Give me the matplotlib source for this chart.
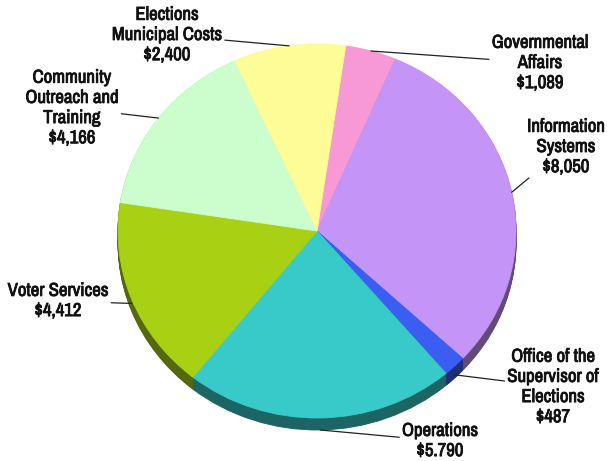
import matplotlib.pyplot as plt
import matplotlib.patheffects as pe
import numpy as np
from matplotlib.colors import to_rgb

plt.rcParams["font.family"] = ["Archivo Narrow", "Liberation Sans", "DejaVu Sans"]

# budget by division, clockwise from the top of the pie
categories = [
    "Governmental\nAffairs",
    "Information\nSystems",
    "Office of the\nSupervisor of\nElections",
    "Operations",
    "Voter Services",
    "Community\nOutreach and\nTraining",
    "Elections\nMunicipal Costs",
]
amounts = [1089, 8050, 487, 5790, 4412, 4166, 2400]
amount_labels = ["$1,089", "$8,050", "$487", "$5.790", "$4,412", "$4,166", "$2,400"]
colors = ["#f799d4", "#c594f7", "#3b5df2", "#38c9c9", "#a9d114", "#ccfdcc", "#fdfc96"]

# label block centres in pixels (x from left, y from top)
label_pos = [(540, 63), (566, 147), (553, 387), (440, 441), (58, 301), (72, 108), (167, 35)]

W, H = 607, 461
cx, cy = 317, 231          # pie centre in pixels
rx, ry = 199, 187          # ellipse radii in pixels
depth = 12 / ry            # thickness of the rim
start = 81.7

fig = plt.figure(figsize=(W / 100, H / 100), dpi=100)
ax = fig.add_axes([0, 0, 1, 1])


def paint(wedges):
    for w in wedges:
        w.set_edgecolor(w.get_facecolor())
        w.set_linewidth(0.6)


# rim: stacked darker copies pushed downwards
side_colors = [tuple(c * 0.5 for c in to_rgb(col)) for col in colors]
steps = 14
for k in range(steps, 0, -1):
    wedges, _ = ax.pie(amounts, colors=side_colors, startangle=start,
                       counterclock=False, center=(0, -depth * k / steps))
    paint(wedges)

wedges, _ = ax.pie(amounts, colors=colors, startangle=start, counterclock=False)
paint(wedges)

ax.set_aspect("auto")
ax.set_xlim(-cx / rx, (W - cx) / rx)
ax.set_ylim(-(H - cy) / ry, cy / ry)
ax.axis("off")

heavy = [pe.withStroke(linewidth=0.6, foreground="#111111")]
for w, name, amt, (tx, ty) in zip(wedges, categories, amount_labels, label_pos):
    theta = np.deg2rad((w.theta1 + w.theta2) / 2)
    x, y = np.cos(theta), np.sin(theta)
    if y < 0:
        y -= depth * -y
    ax.annotate(f"{name}\n{amt}", xy=(x, y), xycoords="data",
                xytext=(tx, H - ty), textcoords="figure pixels",
                ha="center", va="center", multialignment="center",
                fontsize=13.5, color="#111111", linespacing=1.32,
                path_effects=heavy,
                arrowprops=dict(arrowstyle="-", color="#222222", lw=0.9,
                                shrinkA=0, shrinkB=0))

fig.savefig("out.png", dpi=100)
